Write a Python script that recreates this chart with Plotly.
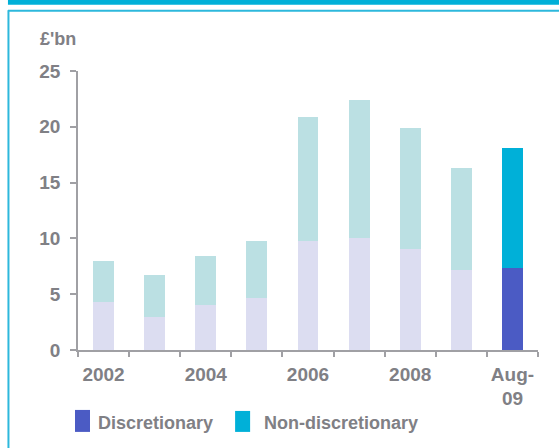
import plotly.graph_objects as go

# Annual flows, £bn
categories = ["2002", "2003", "2004", "2005", "2006", "2007", "2008", "2009", "Aug-09"]
tick_labels = ["2002", "", "2004", "", "2006", "", "2008", "", "Aug-<br>09"]
discretionary = [4.3, 3.0, 4.0, 4.65, 9.75, 10.0, 9.05, 7.15, 7.35]
non_discretionary = [3.7, 3.7, 4.4, 5.1, 11.1, 12.4, 10.8, 9.15, 10.75]

W, H = 559, 448
L, R, T, B = 78, 21.3, 70.7, 98
PW, PH = W - L - R, H - T - B

GREY = "#808085"
CYAN = "#00B0D8"
DISC_DARK = "#4B5BC4"
DISC_LIGHT = "#DCDDF1"
NOND_LIGHT = "#BBE0E3"
AXIS = "#A0A0A4"
FONT = "Liberation Sans, Arial, sans-serif"


def px(x):
    return (x - L) / PW


def py(y):
    return (H - B - y) / PH


disc_colors = [DISC_LIGHT] * (len(categories) - 1) + [DISC_DARK]
nond_colors = [NOND_LIGHT] * (len(categories) - 1) + [CYAN]

fig = go.Figure()
fig.add_trace(go.Bar(x=categories, y=discretionary, name="Discretionary",
                     marker=dict(color=disc_colors, line=dict(width=0)),
                     width=0.41, showlegend=False))
fig.add_trace(go.Bar(x=categories, y=non_discretionary, name="Non-discretionary",
                     marker=dict(color=nond_colors, line=dict(width=0)),
                     width=0.41, showlegend=False))

shapes = [
    # header strip and frame
    dict(type="rect", xref="paper", yref="paper", x0=px(8), x1=px(W + 5),
         y0=py(-2), y1=py(4.5), fillcolor=CYAN, line=dict(width=0), layer="above"),
    dict(type="line", xref="paper", yref="paper", x0=px(8), x1=px(W + 5),
         y0=py(10.5), y1=py(10.5), line=dict(color="#2DB8DC", width=2)),
    dict(type="line", xref="paper", yref="paper", x0=px(8.5), x1=px(8.5),
         y0=py(10), y1=py(H + 5), line=dict(color="#2DB8DC", width=2)),
    # legend keys
    dict(type="rect", xref="paper", yref="paper", x0=px(75), x1=px(90),
         y0=py(410), y1=py(432), fillcolor=DISC_DARK, line=dict(width=0)),
    dict(type="rect", xref="paper", yref="paper", x0=px(235), x1=px(250),
         y0=py(411), y1=py(432), fillcolor=CYAN, line=dict(width=0)),
]

annotations = [
    dict(text="£'bn", xref="paper", yref="paper", x=px(38), y=py(39),
         xanchor="left", yanchor="middle", showarrow=False,
         font=dict(family=FONT, size=18, color=GREY, weight="bold")),
    dict(text="Discretionary", xref="paper", yref="paper", x=px(96), y=py(423),
         xanchor="left", yanchor="middle", showarrow=False,
         font=dict(family=FONT, size=18, color=GREY, weight="bold")),
    dict(text="Non-discretionary", xref="paper", yref="paper", x=px(262), y=py(423),
         xanchor="left", yanchor="middle", showarrow=False,
         font=dict(family=FONT, size=18, color=GREY, weight="bold")),
]

fig.update_layout(
    barmode="stack",
    width=W, height=H,
    margin=dict(l=L, r=R, t=T, b=B, pad=0),
    paper_bgcolor="white", plot_bgcolor="white",
    shapes=shapes, annotations=annotations,
    font=dict(family=FONT, color=GREY),
    xaxis=dict(
        type="category", range=[-0.5, 8.5], automargin=False,
        tickmode="array", tickvals=categories, ticktext=tick_labels,
        tickangle=0,
        tickson="boundaries", ticks="outside", ticklen=5, tickwidth=1.5,
        tickcolor=AXIS, showline=True, linecolor=AXIS, linewidth=1.5,
        showgrid=False, zeroline=False, ticklabelstandoff=6,
        tickfont=dict(family=FONT, size=19, color=GREY, weight="bold"),
    ),
    yaxis=dict(
        range=[0, 25], tickvals=[0, 5, 10, 15, 20, 25], automargin=False,
        ticks="outside", ticklen=6, tickwidth=1.5, tickcolor=AXIS,
        showline=True, linecolor=AXIS, linewidth=1.5,
        showgrid=False, zeroline=False, ticklabelstandoff=6,
        tickfont=dict(family=FONT, size=19, color=GREY, weight="bold"),
    ),
)

fig.write_html("out.html")
